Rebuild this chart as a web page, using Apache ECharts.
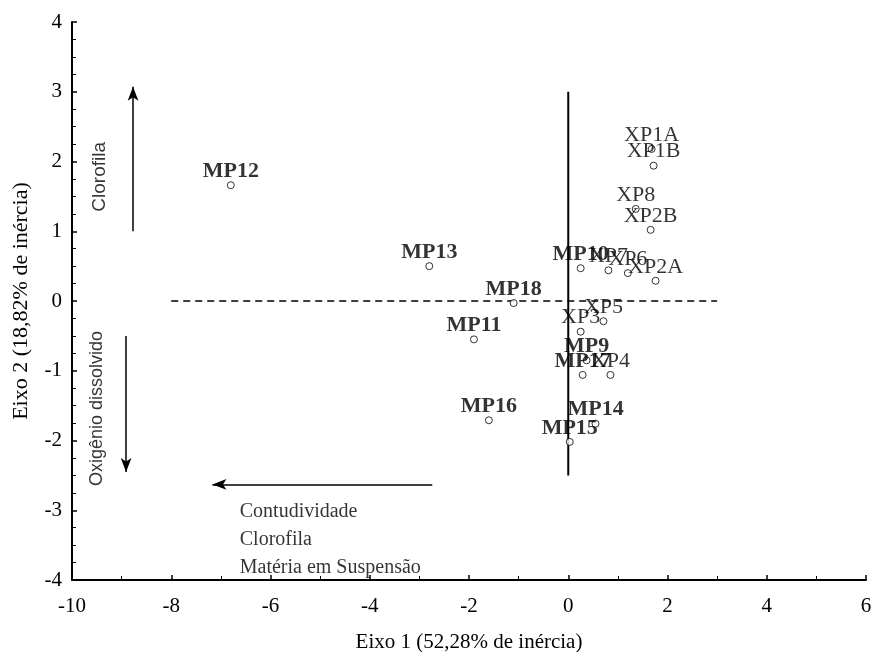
<!DOCTYPE html>
<html>
<head>
<meta charset="utf-8">
<script src="https://cdn.jsdelivr.net/npm/echarts@6/dist/echarts.min.js"></script>
<style>
html, body { margin: 0; padding: 0; background: #fff; }
#chart { width: 872px; height: 652px; }
</style>
</head>
<body>
<div id="chart"></div>
<script>
// pontos MP (negrito)
var mpNames = ['MP12', 'MP13', 'MP18', 'MP11', 'MP16', 'MP15', 'MP14', 'MP17', 'MP9', 'MP10'];
var mpX = [-6.80, -2.80, -1.10, -1.90, -1.60, 0.03, 0.55, 0.29, 0.37, 0.25];
var mpY = [1.66, 0.50, -0.03, -0.55, -1.71, -2.02, -1.76, -1.06, -0.85, 0.47];

// pontos XP
var xpNames = ['XP4', 'XP3', 'XP5', 'XP1A', 'XP1B', 'XP8', 'XP2B', 'XP7', 'XP6', 'XP2A'];
var xpX = [0.85, 0.25, 0.71, 1.68, 1.72, 1.36, 1.66, 0.81, 1.20, 1.76];
var xpY = [-1.06, -0.44, -0.29, 2.18, 1.94, 1.32, 1.02, 0.44, 0.40, 0.29];

// eixos de referencia
var vLine = [[0, -2.5], [0, 3]];
var hLine = [[-8, 0], [3, 0]];

// setas
var arrowUp = [[-8.77, 1.0], [-8.77, 3.07]];
var arrowDown = [[-8.91, -0.5], [-8.91, -2.45]];
var arrowLeft = [[-2.74, -2.63], [-7.17, -2.63]];

// textos
var vertTexts = ['Clorofila', 'Oxigênio dissolvido'];
var vertPos = [[-9.44, 1.78], [-9.50, -1.54]];
var bottomTexts = ['Contudividade', 'Clorofila', 'Matéria em Suspensão'];
var bottomPos = [[-6.62, -3.02], [-6.62, -3.43], [-6.62, -3.83]];

var serif = 'Liberation Serif';
var sans = 'Liberation Sans';

var zip = function (names, xs, ys) {
    return names.map(function (n, i) {
        return { name: n, value: [xs[i], ys[i]] };
    });
};

var arrowLine = function (pts) {
    return [{ coord: pts[0] }, { coord: pts[1] }];
};

var myChart = echarts.init(document.getElementById('chart'));
var pointStyle = {
    type: 'scatter',
    symbol: 'circle',
    symbolSize: 7,
    itemStyle: { color: '#fff', borderColor: '#000', borderWidth: 1 },
    z: 5
};

var option = {
    animation: false,
    grid: { left: 72, right: 6, top: 22, bottom: 72, outerBoundsMode: 'none' },
    xAxis: {
        type: 'value',
        min: -10,
        max: 6,
        interval: 2,
        name: 'Eixo 1 (52,28% de inércia)',
        nameLocation: 'middle',
        nameGap: 52,
        nameTextStyle: { fontFamily: serif, fontSize: 21, color: '#000' },
        axisLine: { onZero: false, lineStyle: { color: '#000', width: 2 } },
        axisTick: { inside: true, length: 5, lineStyle: { color: '#000', width: 1.5 } },
        minorTick: { show: true, splitNumber: 2, length: 4, lineStyle: { color: '#000', width: 1 } },
        axisLabel: { fontFamily: serif, fontSize: 21, color: '#000', margin: 16 },
        splitLine: { show: false }
    },
    yAxis: {
        type: 'value',
        min: -4,
        max: 4,
        interval: 1,
        name: 'Eixo 2 (18,82% de inércia)',
        nameLocation: 'middle',
        nameGap: 40,
        nameTextStyle: { fontFamily: serif, fontSize: 22, color: '#000' },
        axisLine: { onZero: false, lineStyle: { color: '#000', width: 2 } },
        axisTick: { inside: true, length: 5, lineStyle: { color: '#000', width: 1.5 } },
        minorTick: { show: true, splitNumber: 4, length: 4, lineStyle: { color: '#000', width: 1 } },
        axisLabel: { fontFamily: serif, fontSize: 21, color: '#000', margin: 10 },
        splitLine: { show: false }
    },
    series: [
        {
            type: 'line',
            data: vLine,
            symbol: 'none',
            lineStyle: { color: '#000', width: 2 },
            z: 2
        },
        {
            type: 'line',
            data: hLine,
            symbol: 'none',
            lineStyle: { color: '#000', width: 1.5, type: [7, 5] },
            z: 2
        },
        {
            type: 'scatter',
            data: [],
            markLine: {
                silent: true,
                symbol: ['none', 'arrow'],
                symbolSize: [8, 14],
                label: { show: false },
                lineStyle: { color: '#000', width: 1.5, type: 'solid' },
                data: [arrowLine(arrowUp), arrowLine(arrowDown), arrowLine(arrowLeft)]
            }
        },
        Object.assign({}, pointStyle, {
            data: zip(mpNames, mpX, mpY),
            label: {
                show: true,
                position: 'top',
                distance: -1,
                formatter: '{b}',
                fontFamily: serif,
                fontWeight: 'bold',
                fontSize: 22,
                color: '#000'
            }
        }),
        Object.assign({}, pointStyle, {
            data: zip(xpNames, xpX, xpY),
            label: {
                show: true,
                position: 'top',
                distance: -1,
                formatter: '{b}',
                fontFamily: serif,
                fontSize: 22,
                color: '#000'
            }
        }),
        {
            type: 'scatter',
            symbolSize: 0,
            data: vertTexts.map(function (t, i) {
                return { name: t, value: vertPos[i], label: { fontSize: i === 0 ? 19 : 18 } };
            }),
            label: {
                show: true,
                position: 'inside',
                rotate: 90,
                formatter: '{b}',
                fontFamily: sans,
                color: '#000'
            }
        },
        {
            type: 'scatter',
            symbolSize: 0,
            data: bottomTexts.map(function (t, i) { return { name: t, value: bottomPos[i] }; }),
            label: {
                show: true,
                position: 'right',
                distance: 0,
                formatter: '{b}',
                fontFamily: serif,
                fontSize: 20,
                color: '#000'
            }
        }
    ]
};
myChart.setOption(option);
</script>
</body>
</html>
